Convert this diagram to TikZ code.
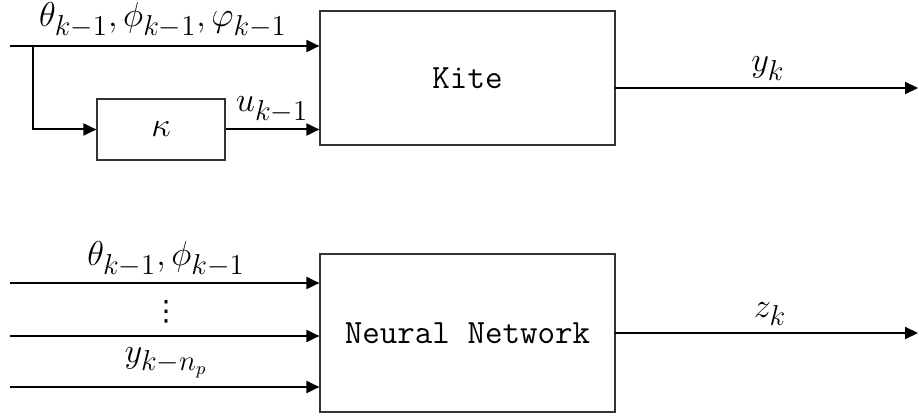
\documentclass[tikz,border=0pt]{standalone}
\usepackage{fontspec}
\newfontfamily\dvfont{DejaVu Sans}
\usetikzlibrary{arrows.meta}
\begin{document}
\begin{tikzpicture}[x=0.5pt,y=-0.5pt,
  blockbox/.style={draw=black!80, line width=0.6pt, inner sep=0pt, font=\fontsize{17}{20}\selectfont\ttfamily},
  arr/.style={line width=1pt, -{Triangle[length=6.5pt,width=6pt]}},
  lbl/.style={font=\fontsize{19}{22}\selectfont, inner sep=0pt}]
\useasboundingbox (0,0) rectangle (919,416);
% blocks
\node[blockbox, minimum width=147.5pt, minimum height=67pt] (kite) at (467.5,78) {Kite};
\node[blockbox, minimum width=64pt, minimum height=30.5pt, font=\fontsize{19}{22}\selectfont] (kappa) at (161,129.5) {$\kappa$};
\node[blockbox, minimum width=147.5pt, minimum height=79pt] (nn) at (467.5,333) {Neural Network};
% top system
\coordinate (in1) at (10,46);
\coordinate (br) at (33,46);
\coordinate (ko) at (615,88);
\coordinate (kout) at (918,88);
\draw[arr] (in1) -- (in1 -| kite.west);
\draw[arr] (br) |- (kappa.west);
\draw[arr] (kappa.east) -- (kappa.east -| kite.west);
\draw[arr] (ko) -- (kout);
\node[lbl, anchor=base] (l1) at (163,27) {$\theta_{k-1},\phi_{k-1},\varphi_{k-1}$};
\node[lbl, anchor=base] (l2) at (272,112) {$u_{k-1}$};
\node[lbl, anchor=base] (l3) at (768,72) {$y_k$};
% bottom system
\coordinate (n1) at (10,283);
\coordinate (n2) at (10,336);
\coordinate (n3) at (10,387);
\coordinate (no) at (615,333);
\coordinate (nout) at (918,333);
\draw[arr] (n1) -- (n1 -| nn.west);
\draw[arr] (n2) -- (n2 -| nn.west);
\draw[arr] (n3) -- (n3 -| nn.west);
\draw[arr] (no) -- (nout);
\node[lbl, anchor=base] (l4) at (166,266) {$\theta_{k-1},\phi_{k-1}$};
\node[lbl, anchor=base, font=\fontsize{14}{16}\selectfont\dvfont] (l5) at (166,321) {⋮};
\node[lbl, anchor=base] (l6) at (166,362) {$y_{k-n_p}$};
\node[lbl, anchor=base] (l7) at (770,317) {$z_k$};
\end{tikzpicture}
\end{document}
